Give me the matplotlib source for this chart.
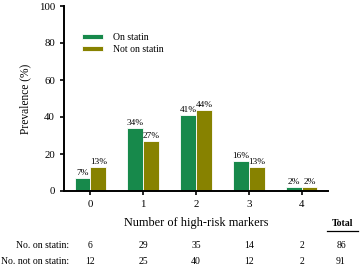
import matplotlib
matplotlib.use("Agg")
import matplotlib.pyplot as plt
import numpy as np

categories = ["0", "1", "2", "3", "4"]
on_statin = [7, 34, 41, 16, 2]
not_on_statin = [13, 27, 44, 13, 2]
n_on = [6, 29, 35, 14, 2]
n_not = [12, 25, 40, 12, 2]
total_on = 86
total_not = 91

plt.rcParams['font.family'] = ['Liberation Serif', 'DejaVu Serif']

W, H = 361, 270
fig = plt.figure(figsize=(W/100, H/100), dpi=100)
ax = fig.add_axes([64/W, (H-191)/H, (328-64)/W, (191-6)/H])

green = '#17894B'
olive = '#878200'
x = np.arange(len(categories))
w = 0.3
b1 = ax.bar(x - w/2, on_statin, w, color=green, edgecolor='white', linewidth=0.6, label='On statin')
b2 = ax.bar(x + w/2, not_on_statin, w, color=olive, edgecolor='white', linewidth=0.6, label='Not on statin')
for bars, vals in ((b1, on_statin), (b2, not_on_statin)):
    for r, v in zip(bars, vals):
        ax.text(r.get_x() + r.get_width()/2, v + 0.5, f"{v}%", ha='center', va='bottom', fontsize=6.7)

ax.set_xlim(-0.5, 4.5)
ax.set_ylim(0, 100)
ax.set_yticks([0, 20, 40, 60, 80, 100])
ax.set_xticks(x)
ax.set_xticklabels(categories)
ax.tick_params(labelsize=7.8, width=1.2, length=3)
for s in ('top', 'right'):
    ax.spines[s].set_visible(False)
for s in ('left', 'bottom'):
    ax.spines[s].set_linewidth(1.4)
ax.set_ylabel('Prevalence (%)', fontsize=8.3, labelpad=5)
ax.set_xlabel('Number of high-risk markers', fontsize=8.8, labelpad=6)

ax.legend(loc='upper left', bbox_to_anchor=(0.035, 0.9), frameon=False, fontsize=7,
          handlelength=2.2, handleheight=0.35, handletextpad=1.0, labelspacing=0.3)

def fy(py):
    return 1 - py / H
rows = [("No. on statin:", n_on, total_on, 245), ("No. not on statin:", n_not, total_not, 262)]
for label, vals, tot, py in rows:
    fig.text(69/W, fy(py), label, ha='right', va='center', fontsize=7)
    for xi, v in zip(x, vals):
        xf = fig.transFigure.inverted().transform(ax.transData.transform((xi, 0)))[0]
        fig.text(xf, fy(py), str(v), ha='center', va='center', fontsize=7)
    fig.text(341/W, fy(py), str(tot), ha='center', va='center', fontsize=7)
fig.text(342/W, fy(223), 'Total', ha='center', va='center', fontsize=7, fontweight='bold')
fig.add_artist(plt.Line2D([327/W, 358/W], [fy(231), fy(231)], color='black', lw=0.9))

fig.savefig('out.png', dpi=100)
